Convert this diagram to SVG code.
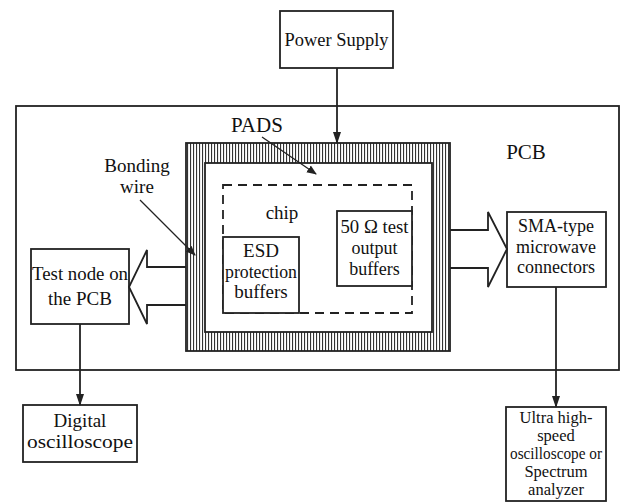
<svg xmlns="http://www.w3.org/2000/svg" width="623" height="503" viewBox="0 0 623 503">
<style>
.box{fill:#fff;stroke:#222;stroke-width:1.8}
.ln{fill:none;stroke:#222;stroke-width:1.8}
.thin{fill:none;stroke:#222;stroke-width:1.3}
.dash{fill:none;stroke:#222;stroke-width:1.8;stroke-dasharray:9,6}
text{font-family:"Liberation Serif","Times New Roman",serif;fill:#111;text-anchor:middle}
.t19{font-size:19px}
.t18{font-size:18px}
.t16{font-size:16.5px}
.t21{font-size:21px}
</style>
<defs>
<pattern id="hatch" patternUnits="userSpaceOnUse" width="3" height="6">
<rect width="3" height="6" fill="#fff"/>
<rect x="1" width="1.1" height="6" fill="#333"/>
</pattern>
<marker id="ah" markerWidth="10" markerHeight="10" refX="9" refY="5" orient="auto" markerUnits="userSpaceOnUse">
<path d="M0,1 L10,5 L0,9 z" fill="#222"/>
</marker>
<marker id="ahs" markerWidth="12" markerHeight="10" refX="11" refY="5" orient="auto" markerUnits="userSpaceOnUse">
<path d="M0,1 L12,5 L0,9 z" fill="#222"/>
</marker>
</defs>

<g id="pcb">
<rect class="box" x="16" y="106" width="603" height="264"/>
<text class="t21" x="526" y="159">PCB</text>
</g>

<g id="power-supply">
<rect class="box" x="280" y="11" width="113" height="57"/>
<text class="t19" x="336.5" y="46" textLength="104" lengthAdjust="spacingAndGlyphs">Power Supply</text>
</g>

<g id="pads">
<rect x="186" y="143" width="264" height="208" fill="url(#hatch)" stroke="#222" stroke-width="1.8"/>
<rect class="box" x="205" y="163" width="227" height="169"/>
<text class="t21" x="257" y="132">PADS</text>
</g>

<g id="chip">
<rect class="dash" x="223" y="185" width="189" height="128"/>
<text class="t19" x="282" y="219">chip</text>
</g>

<g id="esd">
<rect class="box" x="223" y="237" width="76" height="76"/>
<text class="t19" x="261" y="257">ESD</text>
<text class="t19" x="261" y="278" textLength="72" lengthAdjust="spacingAndGlyphs">protection</text>
<text class="t19" x="261" y="298">buffers</text>
</g>

<g id="test-buffers">
<rect class="box" x="337" y="211" width="75" height="75"/>
<text class="t18" x="374.5" y="233" textLength="68" lengthAdjust="spacingAndGlyphs">50 Ω test</text>
<text class="t18" x="374.5" y="254">output</text>
<text class="t18" x="374.5" y="275">buffers</text>
</g>

<g id="bonding-wire">
<text class="t19" x="137" y="172">Bonding</text>
<text class="t19" x="137" y="193">wire</text>
</g>

<g id="test-node">
<rect class="box" x="31" y="249" width="98" height="75"/>
<text class="t19" x="80" y="280" textLength="96" lengthAdjust="spacingAndGlyphs">Test node on</text>
<text class="t19" x="80" y="305">the PCB</text>
</g>

<g id="sma">
<rect class="box" x="507" y="212" width="99" height="75"/>
<text class="t18" x="556" y="232">SMA-type</text>
<text class="t18" x="556" y="253">microwave</text>
<text class="t18" x="556" y="273">connectors</text>
</g>

<g id="digital-oscilloscope">
<rect class="box" x="23" y="405" width="114" height="57"/>
<text class="t19" x="80" y="427">Digital</text>
<text class="t19" x="80" y="448" textLength="106" lengthAdjust="spacingAndGlyphs">oscilloscope</text>
</g>

<g id="ultra">
<rect class="box" x="506" y="407" width="100" height="94"/>
<text class="t16" x="556" y="423">Ultra high-</text>
<text class="t16" x="556" y="441">speed</text>
<text class="t16" x="556" y="459" textLength="92" lengthAdjust="spacingAndGlyphs">oscilloscope or</text>
<text class="t16" x="556" y="477">Spectrum</text>
<text class="t16" x="556" y="495">analyzer</text>
</g>

<g id="connectors">
<line class="ln" x1="337" y1="68" x2="337" y2="143" marker-end="url(#ahs)"/>
<line class="thin" x1="262" y1="137" x2="316" y2="174" marker-end="url(#ah)"/>
<line class="thin" x1="140" y1="200" x2="195" y2="255" marker-end="url(#ah)"/>
<line class="ln" x1="80" y1="324" x2="80" y2="405" marker-end="url(#ahs)"/>
<line class="ln" x1="556" y1="287" x2="556" y2="407" marker-end="url(#ahs)"/>
<path class="ln" d="M186,267 L147,267 L147,250 L129,287 L147,324 L147,305 L186,305" fill="#fff"/>
<path class="ln" d="M450,230 L488,230 L488,212 L507,249 L488,287 L488,268 L450,268" fill="#fff"/>
</g>
</svg>
